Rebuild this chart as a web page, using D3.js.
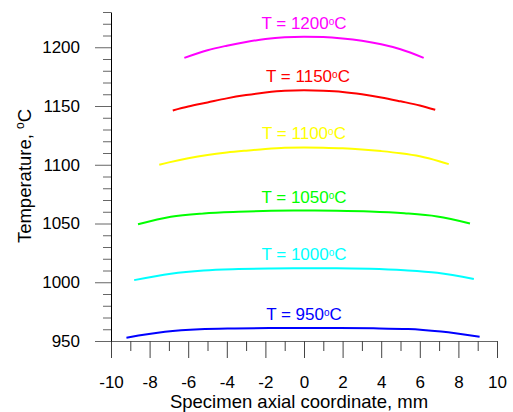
<!DOCTYPE html>
<html lang="en">
<head>
  <meta charset="UTF-8">
  <title>Temperature profiles</title>
  <script src="https://cdn.jsdelivr.net/npm/d3@7"></script>
<style>
  body { margin: 0; background: #fff; }
  svg { font-family: "Liberation Sans", Arial, sans-serif; }
</style>
</head>

<body>
  <script>
    // furnace set temperatures and their colours
    var setTemps = [950, 1000, 1050, 1100, 1150, 1200];
    var colors = ['#0000ff', '#00ffff', '#00ff00', '#ffff00', '#ff0000', '#ff00ff'];

    // axial coordinate (mm) and temperature (C)
    var x950 = [-9.2, -7.2, -5.4, -3.6, -1.8, 0, 1.8, 3.6, 5.4, 7.1, 9.1];
    var t950 = [952.8, 957.8, 960, 960.7, 961, 961, 961, 960.8, 960.2, 958, 953.6];

    var x1000 = [-8.8, -6.9, -5.2, -3.4, -1.7, 0, 1.7, 3.4, 5.2, 6.9, 8.8];
    var t1000 = [1001.8, 1007.3, 1010, 1011.2, 1011.8, 1012, 1012, 1011.5, 1010.2, 1008, 1002.8];

    var x1050 = [-8.6, -6.9, -5.2, -3.4, -1.7, 0, 1.7, 3.4, 5.2, 6.9, 8.6];
    var t1050 = [1049.3, 1055.8, 1058.6, 1060, 1060.8, 1061, 1060.8, 1060.2, 1058.7, 1056, 1050];

    var x1100 = [-7.5, -7, -6, -5, -4, -3, -2, -1, 0, 1, 2, 3, 4, 5, 6, 7, 7.5];
    var t1100 = [1100, 1102, 1105.5, 1108.3, 1110.4, 1112, 1113.4, 1114.4, 1114.7, 1114.5, 1114, 1113, 1111.6, 1109.8, 1107.2, 1103, 1100.5];

    var x1150 = [-6.8, -6, -5, -4, -3, -2, -1, 0, 1, 2, 3, 4, 5, 6, 6.8];
    var t1150 = [1146.2, 1149.5, 1153, 1156.5, 1159.3, 1161.5, 1163, 1163.4, 1163, 1162, 1160, 1157.3, 1154, 1150.5, 1146.8];

    var x1200 = [-6.2, -5, -4, -3, -2, -1, 0, 1, 2, 3, 4, 5, 6.2];
    var t1200 = [1191, 1197.5, 1201.3, 1204.5, 1207, 1208.5, 1209, 1208.7, 1207.5, 1205.5, 1202.5, 1198.3, 1191];

    var xs = [x950, x1000, x1050, x1100, x1150, x1200];
    var ts = [t950, t1000, t1050, t1100, t1150, t1200];

    var xMajor = d3.range(-10, 11, 2);
    var xMinor = d3.range(-9, 10, 2);
    var yMajor = [950, 1000, 1050, 1100, 1150, 1200];
    var yMinor = d3.range(960, 1231, 10).filter(d => d % 50 != 0);

    var w = 513;
    var h = 412;

    var x = d3.scaleLinear().domain([-10, 10]).range([111, 497]);
    var y = d3.scaleLinear().domain([950, 1230]).range([341, 12]);

    var svg = d3.select('body')
                .append('svg')
                .attr('width', w)
                .attr('height', h);

    // x axis: long ticks every 2 mm, short ones between
    var gx = svg.append('g')
      .attr('transform', `translate(0,${y(950)})`)
      .call(d3.axisBottom(x).tickValues(xMajor).tickSize(17).tickSizeOuter(0));
    gx.select('.domain').attr('stroke', '#666');
    gx.selectAll('.tick line').attr('stroke', '#444');
    gx.selectAll('text')
      .attr('y', 47).attr('dy', 0)
      .attr('font-size', '17px').attr('fill', '#000')
      .text(d => String(d));

    var gxm = svg.append('g')
      .attr('transform', `translate(0,${y(950)})`)
      .call(d3.axisBottom(x).tickValues(xMinor).tickSize(10).tickSizeOuter(0).tickFormat(''));
    gxm.select('.domain').remove();
    gxm.selectAll('.tick line').attr('stroke', '#444');

    // y axis
    var gy = svg.append('g')
      .attr('transform', `translate(${x(-10)},0)`)
      .call(d3.axisLeft(y).tickValues(yMajor).tickSize(16).tickSizeOuter(0).tickFormat(d3.format('d')));
    gy.select('.domain').attr('stroke', '#000');
    gy.selectAll('.tick line').attr('stroke', '#666');
    gy.selectAll('text')
      .attr('x', -31).attr('dy', '0.32em')
      .attr('font-size', '17px').attr('fill', '#000');

    var gym = svg.append('g')
      .attr('transform', `translate(${x(-10)},0)`)
      .call(d3.axisLeft(y).tickValues(yMinor).tickSize(8).tickSizeOuter(0).tickFormat(''));
    gym.select('.domain').remove();
    gym.selectAll('.tick line').attr('stroke', '#666');

    svg.selectAll('g').attr('font-family', null);

    // curves
    var line = d3.line()
      .x(d => x(d[0]))
      .y(d => y(d[1]))
      .curve(d3.curveMonotoneX);

    var curves = setTemps.map((T, i) => xs[i].map((v, j) => [v, ts[i][j]]));

    svg.selectAll('path.curve')
      .data(curves)
      .enter()
      .append('path')
      .attr('class', 'curve')
      .attr('d', line)
      .attr('fill', 'none')
      .attr('stroke', (d, i) => colors[i])
      .attr('stroke-width', 2);

    // curve labels sit just above each peak
    var labels = svg.selectAll('text.lbl')
      .data(setTemps)
      .enter()
      .append('text')
      .attr('class', 'lbl')
      .attr('x', (d, i) => x(0) + (d == 1150 ? 4 : 0))
      .attr('y', (d, i) => y(d3.max(ts[i])) - 8)
      .attr('text-anchor', 'middle')
      .attr('font-size', '17px')
      .attr('fill', (d, i) => colors[i]);
    labels.append('tspan').text(d => 'T = ' + d);
    labels.append('tspan').attr('font-size', '10px').attr('dy', -4).text('o');
    labels.append('tspan').attr('dy', 4).text('C');

    // axis titles
    var yt = svg.append('text')
      .attr('transform', 'translate(31,176) rotate(-90)')
      .attr('text-anchor', 'middle')
      .attr('font-size', '18.5px');
    yt.append('tspan').text('Temperature, ');
    yt.append('tspan').attr('font-size', '12px').attr('dy', -7).text('o');
    yt.append('tspan').attr('dy', 7).text('C');

    svg.append('text')
      .attr('x', 299)
      .attr('y', 408)
      .attr('text-anchor', 'middle')
      .attr('font-size', '18.5px')
      .text('Specimen axial coordinate, mm');
  </script>
</body>
</html>
